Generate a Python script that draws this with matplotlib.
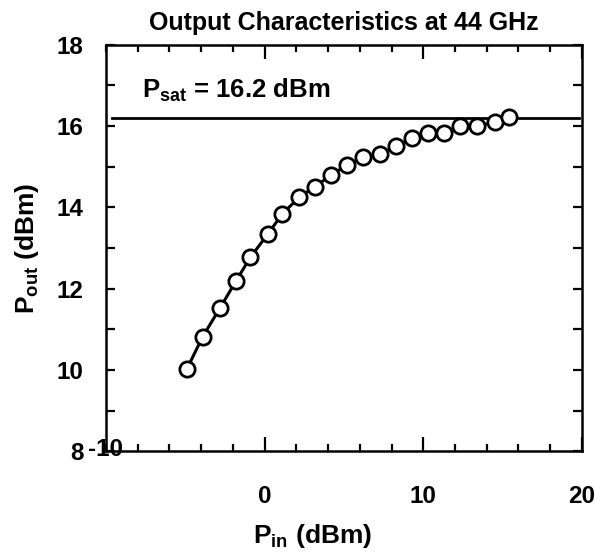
import numpy as np
import matplotlib
matplotlib.use("Agg")
import matplotlib.pyplot as plt
from matplotlib.ticker import MultipleLocator

plt.rcParams['font.family'] = ['Liberation Sans', 'DejaVu Sans']
plt.rcParams['font.weight'] = 'bold'
plt.rcParams['mathtext.fontset'] = 'custom'
plt.rcParams['mathtext.rm'] = 'Liberation Sans:bold'
plt.rcParams['mathtext.it'] = 'Liberation Sans:bold'
plt.rcParams['mathtext.bf'] = 'Liberation Sans:bold'

# Input power (dBm) and output power (dBm)
p_in = [-4.9, -3.9, -2.8, -1.8, -0.9, 0.2, 1.1, 2.2, 3.2, 4.2, 5.2,
        6.2, 7.3, 8.3, 9.3, 10.3, 11.3, 12.3, 13.4, 14.5, 15.4]
p_out = [10.02, 10.82, 11.53, 12.19, 12.77, 13.34, 13.83, 14.26, 14.51, 14.80, 15.04,
         15.23, 15.31, 15.52, 15.70, 15.82, 15.82, 16.01, 16.01, 16.09, 16.22]
p_sat = 16.2

fig = plt.figure(figsize=(5.95, 5.53), dpi=100)
ax = fig.add_axes([0.178, 0.184, 0.800, 0.735])

# saturation line
ax.plot([-9.6, 19.8], [p_sat, p_sat], color='black', lw=2)

ax.plot(p_in, p_out, color='black', lw=2.2, marker='o', markersize=11,
        markerfacecolor='white', markeredgecolor='black', markeredgewidth=2)

ax.set_xlim(-10, 20)
ax.set_ylim(8, 18)

ax.xaxis.set_major_locator(MultipleLocator(10))
ax.xaxis.set_minor_locator(MultipleLocator(2))
ax.yaxis.set_major_locator(MultipleLocator(2))
ax.yaxis.set_minor_locator(MultipleLocator(1))

ax.tick_params(which='both', direction='in', top=True, right=True, width=1.6,
               labelsize=17.5)
ax.tick_params(axis='x', which='major', length=10, pad=24)
ax.tick_params(axis='x', which='minor', length=5)
ax.tick_params(axis='y', which='both', length=6.5, pad=16)

ax.set_xticks([0, 10, 20])
ax.set_xticklabels(['0', '10', '20'])
# the -10 label sits right on the axis line in the original
ax.text(-10, 8.05, '-10', ha='center', va='center', fontsize=17.5,
        fontweight='bold', clip_on=False)

for s in ax.spines.values():
    s.set_linewidth(1.8)

ax.text(-7.7, 16.88, r'P$_{\rm sat}$ = 16.2 dBm', fontsize=18.5,
        fontweight='bold', va='center', ha='left')

ax.set_title('Output Characteristics at 44 GHz', fontsize=18,
             fontweight='bold', pad=11)
ax.set_xlabel(r'P$_{\rm in}$ (dBm)', fontsize=19, fontweight='bold')
ax.set_ylabel(r'P$_{\rm out}$ (dBm)', fontsize=19, fontweight='bold')
ax.xaxis.set_label_coords(0.435, -0.175)
ax.yaxis.set_label_coords(-0.137, 0.5)

fig.savefig('out.png', dpi=100)
